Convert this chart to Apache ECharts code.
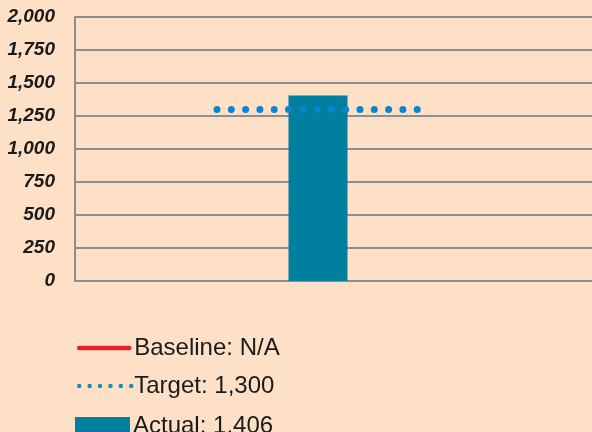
<!DOCTYPE html>
<html>
<head>
<meta charset="utf-8">
<script src="https://cdn.jsdelivr.net/npm/echarts@6/dist/echarts.min.js"></script>
<style>
html,body{margin:0;padding:0;background:#fde0c6;}
#c{width:592px;height:432px;}
</style>
</head>
<body>
<div id="c"></div>
<script>
var categories = ['Actual'];
var actualValues = [1406];
var targetValues = [1300];
var baselineValues = [];
var yTicks = [0, 250, 500, 750, 1000, 1250, 1500, 1750, 2000];
var seriesNames = ['Baseline: N/A', 'Target: 1,300', 'Actual: 1,406'];

var chart = echarts.init(document.getElementById('c'));
var gridColor = '#8e8e8e';
var legendText = {fontFamily: 'Liberation Sans', fontSize: 24, color: '#1a1a1a', padding: [0, 0, 0, -2]};
var hiddenSymbol = {color: 'rgba(0,0,0,0)', borderWidth: 0, opacity: 0};
var option = {
  backgroundColor: '#fde0c6',
  animation: false,
  grid: [
    {left: 75, right: 0, top: 17, bottom: 151},
    {left: 217, right: 173, top: 17, bottom: 151}
  ],
  xAxis: [
    {gridIndex: 0, type: 'category', data: [''], axisLine: {show: true, lineStyle: {color: gridColor, width: 2}},
     axisTick: {show: false}, axisLabel: {show: false}},
    {gridIndex: 1, type: 'category', data: categories, show: false}
  ],
  yAxis: [
    {gridIndex: 0, type: 'value', min: yTicks[0], max: yTicks[yTicks.length - 1], interval: 250,
     axisLine: {show: true, lineStyle: {color: gridColor, width: 2}},
     axisTick: {show: false},
     splitLine: {show: true, lineStyle: {color: gridColor, width: 2}},
     axisLabel: {margin: 20, padding: [4, 0, 0, 0], fontFamily: 'Liberation Sans', fontSize: 19, fontStyle: 'italic', fontWeight: 'bold', color: '#1a1a1a',
       formatter: function (v) { return v.toLocaleString('en-US'); }}},
    {gridIndex: 1, type: 'value', min: yTicks[0], max: yTicks[yTicks.length - 1], show: false}
  ],
  legend: [
    {left: 72, top: 331, orient: 'vertical', itemWidth: 50, itemHeight: 18,
     textStyle: {fontFamily: 'Liberation Sans', fontSize: 24, color: '#1a1a1a', padding: [0, 0, 0, 0]}, selectedMode: false,
     data: [{name: seriesNames[0], itemStyle: hiddenSymbol,
             lineStyle: {color: '#e8202a', width: 4.5, cap: 'round'}}]},
    {left: 72, top: 369, orient: 'vertical', itemWidth: 52, itemHeight: 18,
     textStyle: legendText, selectedMode: false,
     data: [{name: seriesNames[1], itemStyle: hiddenSymbol,
             lineStyle: {color: '#1a8fab', width: 4.5, type: [0, 10.4], cap: 'round'}}]},
    {left: 70, top: 409, orient: 'vertical', itemWidth: 55, itemHeight: 18,
     textStyle: legendText, selectedMode: false,
     data: [{name: seriesNames[2], icon: 'rect'}]}
  ],
  series: [
    {name: seriesNames[0], type: 'line', xAxisIndex: 1, yAxisIndex: 1, data: baselineValues, symbol: 'none',
     lineStyle: {color: '#e8202a', width: 4.5, cap: 'round'}, itemStyle: {color: '#e8202a'}},
    {name: seriesNames[1], type: 'line', xAxisIndex: 1, yAxisIndex: 1, data: targetValues, symbol: 'none', showSymbol: false,
     lineStyle: {color: '#1a8fab', width: 4.5, type: [0, 10.4], cap: 'round'}, itemStyle: {color: '#1a8fab'},
     markLine: {silent: true, symbol: ['none', 'none'], label: {show: false}, animation: false,
       lineStyle: {color: '#0b83cf', width: 7, type: [0, 14.3], cap: 'round'},
       data: [{yAxis: targetValues[0]}]}},
    {name: seriesNames[2], type: 'bar', xAxisIndex: 1, yAxisIndex: 1, data: actualValues, barWidth: 59,
     itemStyle: {color: '#017f9e'}}
  ]
};
chart.setOption(option);
</script>
</body>
</html>
